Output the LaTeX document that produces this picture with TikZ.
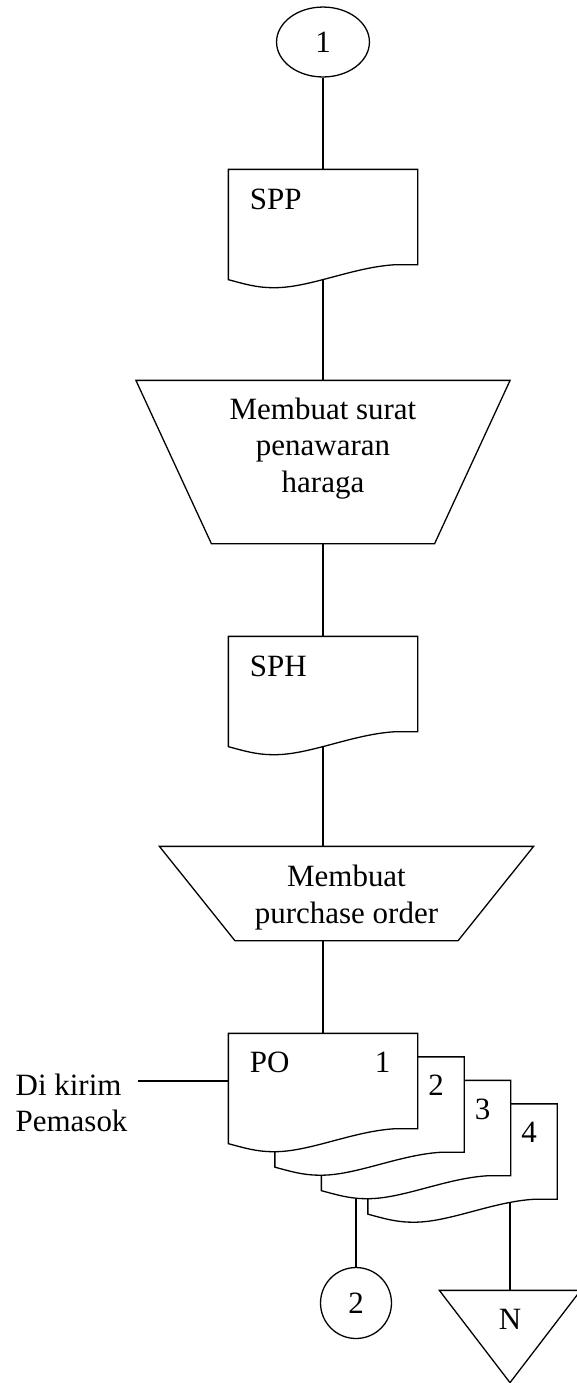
\documentclass[tikz,border=0pt]{standalone}
\usepackage{fontspec}
\setmainfont{Liberation Serif}
\usetikzlibrary{shapes.geometric}

\tikzset{
	doc/.style={rectangle, minimum width=72.85pt, minimum height=36.43pt, inner sep=0pt},
	proc/.style={rectangle, minimum width=144.5pt, inner sep=0pt},
	conn/.style={ellipse, draw, inner sep=0pt},
	doclabel/.style={anchor=base west, inner sep=0pt}
}
% document symbol with wavy bottom, drawn over the node box
\newcommand{\wavedoc}[1]{%
	\draw[fill=white] (#1.south east) -- (#1.north east) -- (#1.north west)
		-- ([shift={(0,-15)}]#1.south west)
		.. controls ([shift={(15,-19)}]#1.south west) and ([shift={(28,-23)}]#1.south west) .. ([shift={(44,-23)}]#1.south west)
		.. controls ([shift={(80,-24)}]#1.south west) and ([shift={(125,-2)}]#1.south west) .. ([shift={(168,0)}]#1.south west)
		-- cycle;}
% manual operation: wide top, narrow bottom
\newcommand{\trap}[1]{%
	\draw[fill=white] (#1.north west) -- (#1.north east)
		-- ([shift={(-75.5,0)}]#1.south east) -- ([shift={(75.5,0)}]#1.south west) -- cycle;}

\begin{document}
\begin{tikzpicture}[x=0.3875pt, y=0.3875pt, line width=0.5pt, font=\fontsize{12}{14}\selectfont]
	\useasboundingbox (0,0) rectangle (577,-1383);
	%\draw[help lines,step=50] (0,0) grid (577,-1383);

	\node[conn, minimum width=36pt, minimum height=27.1pt] (c1) at (323,-42) {1};
	\node[doc] (spp) at (323,-217) {};
	\node[proc, minimum height=62.78pt] (t1) at (323,-462) {};
	\node[doc] (sph) at (323,-684) {};
	\node[proc, minimum height=36.04pt] (t2) at (346.5,-893.5) {};
	\foreach \k in {1,...,4}
		\node[doc] (po\k) at ({323+46.5*(\k-1)},{-1081-23.5*(\k-1)}) {};
	\node[conn, circle, minimum size=27.5pt] (c2) at (356,-1303) {2};
	\node[rectangle, minimum width=54.25pt, minimum height=35.26pt, inner sep=0pt] (nt) at (510,-1336.5) {};
	\node[anchor=west, align=left, inner sep=0pt] (kirim) at (15,-1102.5) {Di kirim\\Pemasok};

	% connectors go first, the shapes are filled white on top
	\draw (c1) -- (spp);
	\draw (spp) -- (t1);
	\draw (t1) -- (sph);
	\draw (sph) -- (sph |- t2.north);
	\draw (po1 |- t2.south) -- (po1);
	\draw (po1.west) -- ([xshift=3.9pt]kirim.east |- po1.west);
	\draw (c2.north) -- (c2.north |- po3.center);
	\draw (nt.north) -- (nt.north |- po4.center);

	\wavedoc{spp}
	\node[doclabel] (spptxt) at ([shift={(21,-40)}]spp.north west) {SPP};
	\trap{t1}
	\node[align=center] (t1txt) at (323,-448.5) {Membuat surat\\penawaran\\haraga};
	\wavedoc{sph}
	\node[doclabel] (sphtxt) at ([shift={(21,-40)}]sph.north west) {SPH};
	\trap{t2}
	\node[align=center] (t2txt) at (346.5,-897.5) {Membuat\\purchase order};

	\foreach \k in {4,3,2}{
		\wavedoc{po\k}
		\node[anchor=base] (num\k) at ([shift={(-28,-39)}]po\k.north east) {\k};
	}
	\wavedoc{po1}
	\node[doclabel] (potxt) at ([shift={(21,-39)}]po1.north west) {PO};
	\node[anchor=base] (num1) at ([shift={(-35,-39)}]po1.north east) {1};

	\draw[fill=white] (nt.north west) -- (nt.north east) -- (nt.south) -- cycle;
	\node[anchor=base] (ntxt) at ([shift={(0,-39)}]nt.north) {N};
\end{tikzpicture}
\end{document}
